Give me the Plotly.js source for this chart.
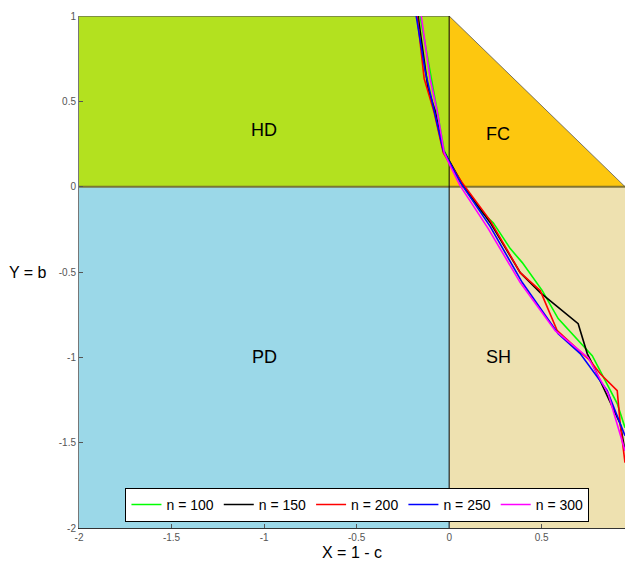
<!DOCTYPE html>
<html>
<head>
<meta charset="utf-8">
<script src="https://cdn.plot.ly/plotly-3.0.1.min.js"></script>
<style>html,body{margin:0;padding:0;overflow:hidden;background:#fff}</style>
</head>
<body>
<div id="chart" style="width:625px;height:562px"></div>
<script>
// Axis / region bounds
const X_MIN = -2, X_MAX = 0.95, Y_MIN = -2, Y_MAX = 1;

// Region labels
const regionNames = ['HD', 'FC', 'PD', 'SH'];
const regionLabelX = [-1.0, 0.265, -1.0, 0.265];
const regionLabelY = [0.33, 0.31, -1.0, -1.0];

// Series
const seriesNames = ['n = 100', 'n = 150', 'n = 200', 'n = 250', 'n = 300'];
const seriesColors = ['#00FF00', '#000000', '#FF0000', '#0000FF', '#FF00FF'];

const x100 = [-0.157, -0.097, -0.065, -0.027, 0, 0.054, 0.168, 0.238, 0.33, 0.395, 0.503, 0.589, 0.773, 0.908, 0.95];
const y100 = [1.0, 0.621, 0.445, 0.211, 0.152, 0.035, -0.141, -0.211, -0.363, -0.445, -0.609, -0.773, -0.99, -1.271, -1.412];

const x150 = [-0.168, -0.124, -0.114, -0.076, -0.032, 0, 0.076, 0.222, 0.384, 0.492, 0.697, 0.746, 0.773, 0.924, 0.95];
const y150 = [1.0, 0.65, 0.574, 0.445, 0.211, 0.152, 0.006, -0.211, -0.504, -0.621, -0.803, -0.978, -1.037, -1.389, -1.547];

const x200 = [-0.173, -0.135, -0.081, -0.032, 0, 0.07, 0.222, 0.384, 0.492, 0.584, 0.762, 0.816, 0.908, 0.924, 0.95];
const y200 = [1.0, 0.633, 0.434, 0.199, 0.141, 0.023, -0.199, -0.504, -0.609, -0.844, -1.02, -1.096, -1.195, -1.389, -1.617];

const x250 = [-0.178, -0.13, -0.081, -0.032, 0, 0.065, 0.222, 0.395, 0.589, 0.708, 0.854, 0.95];
const y250 = [1.0, 0.68, 0.445, 0.211, 0.146, 0.018, -0.234, -0.562, -0.861, -0.978, -1.195, -1.459];

const x300 = [-0.151, -0.103, -0.065, -0.027, 0, 0.059, 0.211, 0.384, 0.573, 0.751, 0.859, 0.95];
const y300 = [1.0, 0.633, 0.445, 0.199, 0.135, 0.006, -0.246, -0.562, -0.844, -1.002, -1.213, -1.547];

const seriesX = [x100, x150, x200, x250, x300];
const seriesY = [y100, y150, y200, y250, y300];

const traces = seriesNames.map((name, i) => ({
  type: 'scatter', mode: 'lines', name: name,
  x: seriesX[i], y: seriesY[i],
  line: {color: seriesColors[i], width: 1.6}
}));

const edge = 'rgba(90,90,90,0.8)';
const shapes = [
  {type: 'rect', xref: 'x', yref: 'y', x0: X_MIN, x1: 0, y0: 0, y1: Y_MAX,
   fillcolor: '#B3E11F', line: {width: 0}, layer: 'below'},
  {type: 'rect', xref: 'x', yref: 'y', x0: X_MIN, x1: 0, y0: Y_MIN, y1: 0,
   fillcolor: '#9BD8E8', line: {width: 0}, layer: 'below'},
  {type: 'rect', xref: 'x', yref: 'y', x0: 0, x1: X_MAX, y0: Y_MIN, y1: 0,
   fillcolor: '#EEE1B0', line: {width: 0}, layer: 'below'},
  {type: 'path', xref: 'x', yref: 'y',
   path: `M 0 ${Y_MAX} L ${X_MAX} 0 L 0 0 Z`,
   fillcolor: '#FDC70F', line: {width: 0}, layer: 'below'},
  // edges
  {type: 'line', xref: 'x', yref: 'y', x0: X_MIN, x1: 0, y0: Y_MAX, y1: Y_MAX,
   line: {color: edge, width: 1.5}, layer: 'below'},
  {type: 'line', xref: 'x', yref: 'y', x0: 0, x1: X_MAX, y0: Y_MAX, y1: 0,
   line: {color: edge, width: 1}, layer: 'below'},
  {type: 'line', xref: 'x', yref: 'y', x0: X_MIN, x1: X_MAX, y0: 0, y1: 0,
   line: {color: 'rgba(110,100,40,0.85)', width: 2}, layer: 'below'},
  {type: 'line', xref: 'x', yref: 'y', x0: 0, x1: 0, y0: Y_MIN, y1: Y_MAX,
   line: {color: '#000000', width: 1}, layer: 'below'}
];

const annotations = regionNames.map((t, i) => ({
  x: regionLabelX[i], y: regionLabelY[i], xref: 'x', yref: 'y',
  text: t, showarrow: false,
  font: {family: 'Liberation Sans, Arial, sans-serif', size: 18, color: '#000'}
}));
annotations.push({
  x: 0.5, y: 0, xref: 'paper', yref: 'paper', xanchor: 'center', yanchor: 'top',
  yshift: -14, text: 'X = 1 - c', showarrow: false,
  font: {family: 'Liberation Sans, Arial, sans-serif', size: 16, color: '#000'}
});
annotations.push({
  x: 0, y: -0.5, xref: 'paper', yref: 'y', xanchor: 'right', yanchor: 'middle',
  xshift: -30, text: 'Y = b', showarrow: false,
  font: {family: 'Liberation Sans, Arial, sans-serif', size: 16, color: '#000'}
});

const tickFont = {family: 'Liberation Sans, Arial, sans-serif', size: 10, color: '#555'};

const layout = {
  width: 625, height: 562,
  margin: {l: 79, r: 0, t: 16, b: 34, pad: 0},
  paper_bgcolor: '#fff', plot_bgcolor: '#fff',
  showlegend: true,
  legend: {
    orientation: 'h', x: 0.51, xanchor: 'center', y: 0.012, yanchor: 'bottom',
    bgcolor: '#fff', bordercolor: '#000', borderwidth: 1,
    font: {family: 'Liberation Sans, Arial, sans-serif', size: 14, color: '#000'},
    itemwidth: 30, tracegroupgap: 0,
    traceorder: 'normal'
  },
  xaxis: {
    range: [X_MIN, X_MAX], tickvals: [-2, -1.5, -1, -0.5, 0, 0.5],
    ticktext: ['-2', '-1.5', '-1', '-0.5', '0', '0.5'],
    ticks: 'inside', ticklen: 4, tickcolor: '#555', tickfont: tickFont,
    showline: true, linecolor: '#333', linewidth: 1,
    showgrid: false, zeroline: false, fixedrange: true
  },
  yaxis: {
    range: [Y_MIN, Y_MAX], tickvals: [-2, -1.5, -1, -0.5, 0, 0.5, 1],
    ticktext: ['-2', '-1.5', '-1', '-0.5', '0', '0.5', '1'],
    ticks: 'inside', ticklen: 4, tickcolor: '#555', tickfont: tickFont,
    showline: true, linecolor: '#777', linewidth: 1,
    showgrid: false, zeroline: false, fixedrange: true
  },
  shapes: shapes,
  annotations: annotations
};

Plotly.newPlot('chart', traces, layout, {displayModeBar: false, staticPlot: true});
</script>
</body>
</html>
